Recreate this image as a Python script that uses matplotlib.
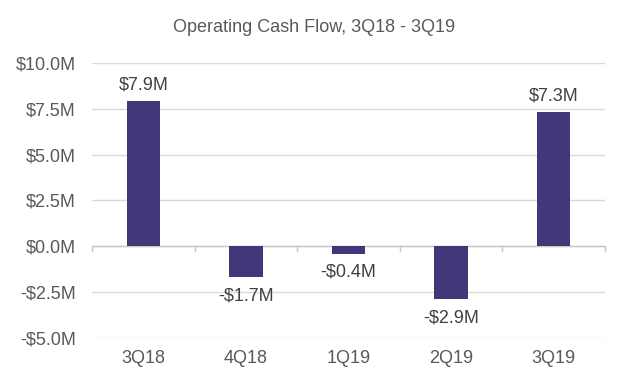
import numpy as np
import matplotlib.pyplot as plt

# data
quarters = ['3Q18', '4Q18', '1Q19', '2Q19', '3Q19']
cash_flow = [7.9, -1.7, -0.4, -2.9, 7.3]   # $M
y_ticks = [-5.0, -2.5, 0.0, 2.5, 5.0, 7.5, 10.0]

plt.rcParams['font.family'] = ['Liberation Sans', 'DejaVu Sans']
text_color = '#595959'
bar_color = '#433779'

fig = plt.figure(figsize=(6.28, 3.84), dpi=100)
ax = fig.add_axes([0.147, 0.12, 0.816, 0.716])

x = np.arange(len(quarters))
ax.bar(x, cash_flow, width=0.33, color=bar_color, zorder=3)

# labels
for xi, v in zip(x, cash_flow):
    if v >= 0:
        ax.annotate(f'${v:.1f}M', (xi, v), xytext=(0, 6), textcoords='offset points',
                    ha='center', va='bottom', fontsize=13, color='#404040')
    else:
        ax.annotate(f'-${abs(v):.1f}M', (xi, v), xytext=(0, -7), textcoords='offset points',
                    ha='center', va='top', fontsize=13, color='#404040')

ax.set_xlim(-0.5, len(quarters) - 0.5)
ax.set_ylim(-5, 10)
ax.set_yticks(y_ticks)
ax.set_yticklabels([f'${t:.1f}M' if t >= 0 else f'-${abs(t):.1f}M' for t in y_ticks])
ax.set_xticks(x)
ax.set_xticklabels(quarters)

# gridlines
ax.grid(axis='y', color='#D9D9D9', linewidth=1, zorder=0)
ax.axhline(0, color='#C8C8C8', linewidth=1, zorder=2)
for b in np.arange(-0.5, len(quarters), 1.0):
    ax.plot([b, b], [0, -0.25], color='#C8C8C8', linewidth=1, zorder=2,
            clip_on=False)

for s in ax.spines.values():
    s.set_visible(False)
ax.tick_params(axis='both', length=0, labelsize=13, labelcolor=text_color)
ax.tick_params(axis='y', pad=12)
ax.tick_params(axis='x', pad=9)

fig.text(0.5, 0.928, 'Operating Cash Flow, 3Q18 - 3Q19', ha='center',
         va='center', fontsize=13, color=text_color)

fig.savefig('out.png', dpi=100)
